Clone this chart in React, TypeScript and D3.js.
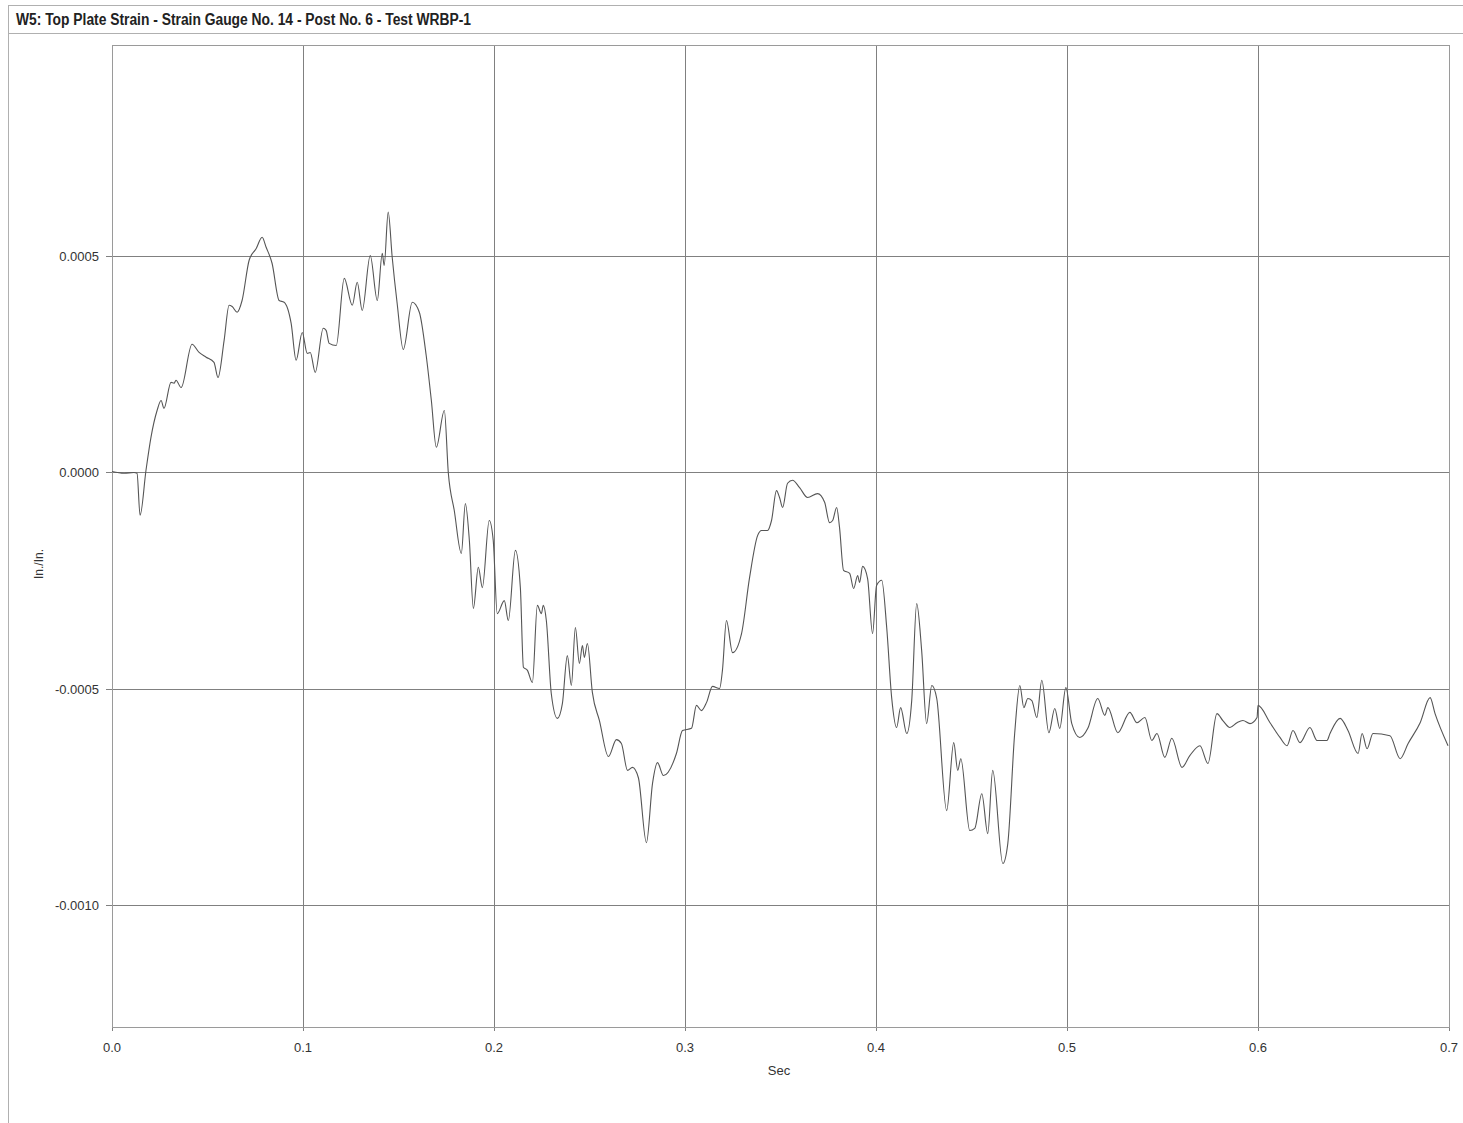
import React from "react";
import * as d3 from "d3";

// Time in milliseconds, strain in microstrain
const timeMs = [
  0, 6.3, 11.5, 13.1, 14.7, 17.8, 20.4, 23.6, 25.7, 27.2, 30.9, 32.5, 33.5, 36.2, 41.9, 45.6, 49.3, 53.4, 55.5, 58.7,
  61.3, 62.9, 65.5, 68.1, 71.8, 75.5, 78.6, 80.7, 83.8, 87.5, 90.1, 93.8, 96.4, 99.6, 102.2, 103.8, 106.4, 110.6, 112.1, 113.7,
  117.4, 121.6, 125.8, 128.4, 131.0, 135.2, 138.9, 141.5, 142.5, 144.6, 146.7, 149.3, 152.5, 157.2, 160.9, 164.5, 167.2, 169.8, 174.0, 176.1,
  179.2, 182.9, 185.0, 187.1, 189.2, 191.8, 193.9, 197.5, 199.6, 201.7, 205.4, 207.5, 211.2, 213.8, 215.4, 217.5, 220.1, 222.7, 224.8, 225.8,
  227.4, 230.0, 233.2, 235.8, 238.4, 240.5, 242.6, 244.7, 246.3, 247.3, 248.9, 251.5, 255.2, 259.9, 264.1, 266.7, 269.9, 272.5, 275.6, 279.8,
  283.0, 285.6, 288.7, 295.5, 298.7, 303.4, 306.0, 308.6, 311.3, 314.4, 318.1, 319.6, 321.7, 324.9, 329.6, 333.8, 338.0, 340.1, 343.2, 345.3,
  347.9, 349.5, 351.1, 353.7, 356.3, 360.0, 364.2, 369.4, 373.1, 375.7, 377.3, 379.4, 380.9, 383.0, 386.2, 388.3, 390.4, 391.4, 393.0, 395.6,
  398.2, 400.3, 403.0, 405.6, 408.2, 410.8, 412.9, 416.1, 418.7, 421.3, 423.9, 426.5, 429.2, 431.8, 437.0, 440.7, 442.8, 444.4, 449.1, 451.7,
  455.4, 458.5, 461.1, 466.4, 469.0, 472.6, 475.3, 477.4, 479.5, 481.6, 484.2, 486.8, 490.5, 493.6, 496.2, 499.4, 502.5, 506.7, 510.9, 516.1,
  519.8, 521.4, 526.6, 532.9, 536.6, 540.8, 544.4, 547.1, 551.2, 554.9, 560.2, 564.3, 569.6, 573.8, 578.5, 581.6, 585.3, 589.0, 592.1, 595.8,
  599.5, 600.0, 606.3, 611.5, 615.2, 618.3, 622.0, 627.2, 630.9, 636.1, 637.7, 643.0, 647.1, 652.4, 654.5, 657.1, 660.2, 669.1, 674.4, 678.6,
  684.9, 690.1, 692.7, 699.5,
];

const strainMicro = [
  2, -2, 0, -2, -99, 5, 81, 143, 166, 148, 208, 206, 213, 196, 296, 277, 266, 254, 219, 305,
  386, 383, 370, 397, 490, 517, 543, 520, 483, 397, 393, 344, 259, 323, 275, 277, 231, 333, 328, 298,
  293, 448, 386, 439, 374, 501, 397, 506, 478, 601, 497, 390, 284, 393, 370, 270, 166, 58, 143, -2,
  -88, -187, -72, -157, -314, -219, -266, -111, -157, -326, -296, -342, -180, -266, -450, -457, -485, -307, -326, -307,
  -342, -511, -568, -534, -423, -492, -358, -441, -400, -427, -395, -508, -573, -656, -617, -626, -688, -681, -705, -855,
  -718, -670, -700, -649, -596, -591, -538, -550, -531, -494, -499, -457, -342, -416, -372, -243, -146, -134, -134, -111,
  -42, -58, -81, -25, -18, -35, -58, -49, -69, -116, -111, -81, -127, -226, -233, -268, -238, -254, -217, -245,
  -372, -261, -249, -358, -520, -589, -543, -603, -527, -303, -411, -580, -492, -522, -781, -624, -688, -661, -827, -822,
  -742, -834, -688, -903, -857, -603, -492, -543, -522, -527, -566, -480, -601, -545, -591, -497, -580, -612, -591, -522,
  -561, -543, -601, -554, -578, -566, -619, -603, -658, -614, -681, -654, -631, -672, -557, -573, -589, -578, -573, -580,
  -566, -538, -578, -612, -631, -596, -624, -589, -619, -619, -603, -568, -596, -649, -603, -638, -603, -608, -661, -626,
  -578, -520, -557, -631,
];

const xTicks = [0, 0.1, 0.2, 0.3, 0.4, 0.5, 0.6, 0.7];
const yTicks = [0.0005, 0, -0.0005, -0.001];

const title = "W5: Top Plate Strain - Strain Gauge No. 14 - Post No. 6 - Test WRBP-1";
const xLabel = "Sec";
const yLabel = "In./In.";

export default function App() {
  const W = 1463;
  const H = 1123;
  const left = 112, right = 1449, top = 45, bottom = 1027;
  const x = d3.scaleLinear().domain([0, 0.7]).range([left, right]);
  const y = d3.scaleLinear().domain([-0.0012806, 0.000987]).range([bottom, top]);

  const data = timeMs.map((t, i) => ({ t: t / 1000, v: strainMicro[i] * 1e-6 }));
  const line = d3
    .line<{ t: number; v: number }>()
    .x((d) => x(d.t))
    .y((d) => y(d.v))
    .curve(d3.curveMonotoneX);

  const font = "'Liberation Sans', Arial, sans-serif";

  return (
    <svg
      width={W}
      height={H}
      style={{ position: "absolute", left: 0, top: 0, background: "#fff" }}
      fontFamily={font}
    >
      <rect x={0} y={0} width={W} height={H} fill="#fff" />
      {/* outer frame */}
      <line x1={8.5} y1={5} x2={8.5} y2={H} stroke="#b0b0b0" />
      <line x1={8} y1={5.5} x2={W} y2={5.5} stroke="#b0b0b0" />
      <line x1={8} y1={33.5} x2={W} y2={33.5} stroke="#b0b0b0" />
      <text
        x={16}
        y={25}
        fontSize={16}
        fontWeight="bold"
        fill="#222"
        textLength={455}
        lengthAdjust="spacingAndGlyphs"
      >
        {title}
      </text>

      {/* grid */}
      {xTicks.map((t) => (
        <g key={"x" + t}>
          <line x1={Math.round(x(t)) + 0.5} x2={Math.round(x(t)) + 0.5} y1={top} y2={bottom + 4} stroke="#808080" />
          <text x={x(t)} y={1052} fontSize={13} fill="#333" textAnchor="middle">
            {t.toFixed(1)}
          </text>
        </g>
      ))}
      {yTicks.map((v) => (
        <g key={"y" + v}>
          <line x1={left - 6} x2={right} y1={Math.round(y(v)) + 0.5} y2={Math.round(y(v)) + 0.5} stroke="#808080" />
          <text x={99} y={y(v) + 5} fontSize={13} fill="#333" textAnchor="end">
            {v.toFixed(4)}
          </text>
        </g>
      ))}
      <rect
        x={left + 0.5}
        y={top + 0.5}
        width={right - left}
        height={bottom - top}
        fill="none"
        stroke="#9a9a9a"
      />

      <path d={line(data) || ""} fill="none" stroke="#555" strokeWidth={1.1} />

      <text x={779} y={1075} fontSize={13} fill="#333" textAnchor="middle">
        {xLabel}
      </text>
      <text
        x={0}
        y={0}
        fontSize={12}
        fill="#333"
        textAnchor="middle"
        transform={`translate(43, 564) rotate(-90)`}
      >
        {yLabel}
      </text>
    </svg>
  );
}
